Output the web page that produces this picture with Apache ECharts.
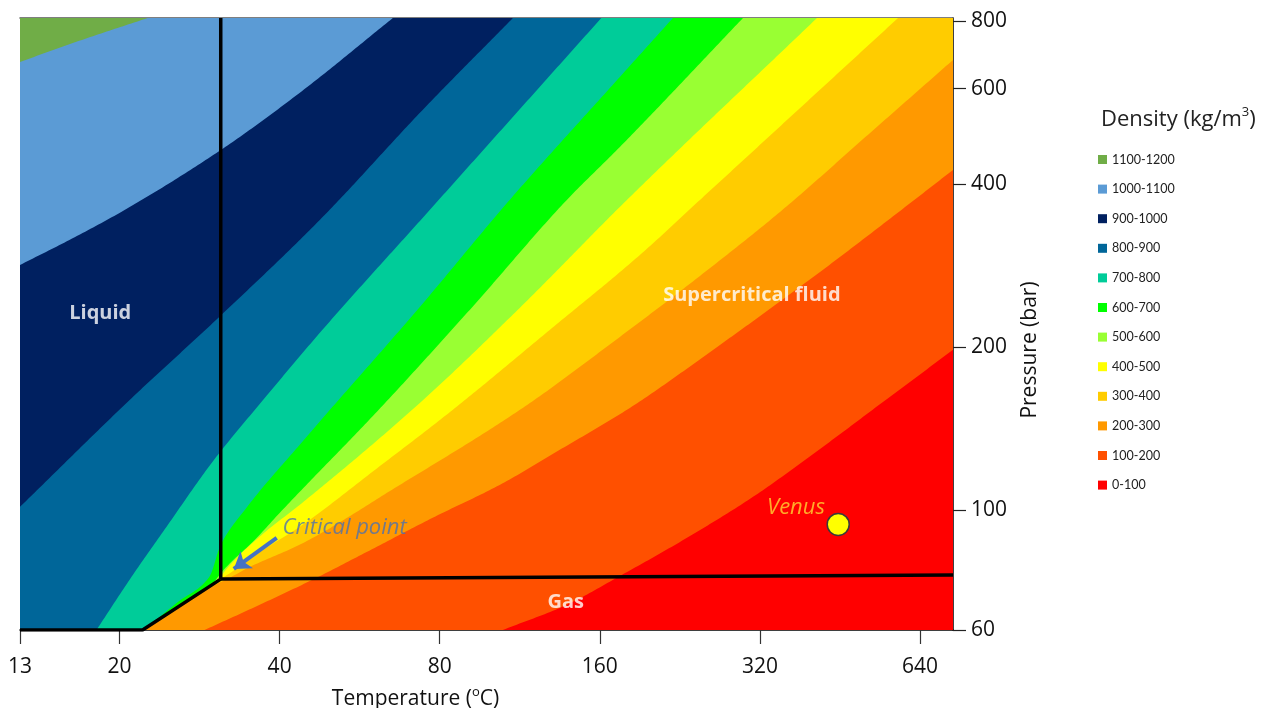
<!DOCTYPE html>
<html>
<head>
<meta charset="utf-8">
<title>CO2 density phase diagram</title>
<script src="https://cdn.jsdelivr.net/npm/echarts@6.0.0/dist/echarts.min.js"></script>
<style>
html,body{margin:0;padding:0;background:#ffffff;}
#chart{width:1261px;height:708px;}
</style>
</head>
<body>
<div id="chart"></div>
<script>
// ---------- data: temperature (°C) and pressure (bar) ----------
const tempRange = [13, 738];
const pressRange = [60, 810];
const tempTicks = [13, 20, 40, 80, 160, 320, 640];
const pressTicks = [60, 100, 200, 400, 600, 800];

const bandNames = ['0-100', '100-200', '200-300', '300-400', '400-500', '500-600',
                   '600-700', '700-800', '800-900', '900-1000', '1000-1100', '1100-1200'];
const bandColors = ['#ff0000', '#ff5000', '#ff9900', '#ffcc00', '#ffff00', '#99ff33',
                    '#00ff00', '#00cc99', '#006699', '#002060', '#5b9bd5', '#70ad47'];

// density contour lines (kg/m3), each listed from its lower-left end to its upper-right end
const iso100 = [[105.1, 60], [138.7, 66.8], [174.5, 75.5], [233.3, 88.8], [310.5, 105.7], [415.0, 129.6], [554.7, 160.3], [738, 197.5]];
const iso200 = [[28.9, 60], [36.7, 66.8], [46.5, 74.6], [58.3, 83.6], [77.6, 96.7], [103.7, 111.2], [134.5, 129.1], [182.2, 154.3], [269.1, 201.7], [415.0, 275.1], [586.9, 356.6], [738, 424.5]];
const iso300 = [[27.9, 69.7], [30.2, 72.7], [31.7, 74.3], [35.1, 78.4], [43.6, 86.2], [67.3, 111.2], [114.6, 154.3], [174.5, 208.7], [246.8, 270.5], [349.0, 355.1], [515.4, 496.9], [738, 677.7]];
const iso400 = [[30.7, 74.1], [32.5, 76.8], [37.5, 84.7], [43.6, 93.0], [60.4, 118.5], [84.6, 153.0], [128.8, 215.0], [190.3, 295.7], [246.8, 373.7], [581.8, 810]];
const iso500 = [[30.5, 73.7], [31.9, 78.1], [37.0, 89.9], [43.6, 102.1], [73.4, 157.6], [113.1, 236.1], [176.0, 365.8], [409.6, 810]];
const iso600 = [[29.9, 72.9], [31.4, 77.5], [35.9, 88.0], [40.0, 98.7], [43.6, 107.9], [59.9, 149.1], [91.1, 234.1], [138.7, 373.7], [174.5, 468.1], [297.3, 810]];
const iso700 = [[22.8, 61.2], [25.6, 67.3], [29.5, 75.2], [31.0, 86.2], [34.4, 100.0], [43.6, 131.8], [73.4, 237.1], [108.3, 373.7], [174.5, 630.5], [219.5, 810]];
const iso800 = [[18.1, 60], [21.2, 75.9], [24.5, 93.0], [29.9, 122.6], [37.8, 162.4], [47.6, 212.3], [76.6, 358], [161, 810]];
const iso900 = [[13, 101.3], [20.9, 159.6], [30.8, 227.2], [47.6, 343.2], [74.3, 548], [109.8, 810]];
const iso1000 = [[13, 283.4], [16.1, 315.2], [20.0, 353.6], [31.0, 462], [43.6, 589], [65.3, 810]];
const iso1100 = [[13, 672], [17.0, 738], [22.6, 810]];

// phase boundaries
const boilingCurve = [[13, 60], [22.1, 60], [31, 74.5]];
const criticalIsotherm = [[31, 810], [31, 74.5]];
const criticalIsobar = [[31, 74.5], [738, 75.8]];

// annotations
const venusPoint = [449, 94];
const regionLabels = [['Liquid', 18.4, 231], ['Supercritical fluid', 309, 249], ['Gas', 138, 67.6]];
const criticalLabel = ['Critical point', 40.5, 92.6];
const venusLabel = ['Venus', 374, 101];
const criticalArrow = [[39.5, 88.8], [32.8, 77.8]];

// ---------- chart ----------
const T_MIN = tempRange[0], T_MAX = tempRange[1];
const P_MIN = pressRange[0], P_MAX = pressRange[1];
const isolines = [null, iso100, iso200, iso300, iso400, iso500, iso600, iso700, iso800, iso900, iso1000, iso1100];
const FONT = '"Open Sans", Lato, "DejaVu Sans", sans-serif';
const LEGEND_FONT = 'Lato, "Open Sans", sans-serif';

// frame corners that close the region "density above this contour" towards the upper-left
function frameCorners(line) {
  const first = line[0], last = line[line.length - 1];
  const pts = [];
  if (last[1] < P_MAX) pts.push([T_MAX, P_MAX]);
  pts.push([T_MIN, P_MAX]);
  if (first[0] > T_MIN) {
    pts.push([T_MIN, P_MIN]);
    if (first[1] > P_MIN) pts.push(boilingCurve[1]);
  }
  return pts;
}

// monotone cubic (Fritsch-Carlson) curve through pixel points whose x increases
function smoothPixels(px) {
  const n = px.length;
  if (n < 3) return px.slice();
  const h = [], d = [], m = [];
  for (let i = 0; i < n - 1; i++) {
    h[i] = px[i + 1][0] - px[i][0];
    d[i] = (px[i + 1][1] - px[i][1]) / h[i];
  }
  m[0] = d[0];
  for (let i = 1; i < n - 1; i++) {
    if (d[i - 1] * d[i] <= 0) { m[i] = 0; continue; }
    const w1 = 2 * h[i] + h[i - 1], w2 = h[i] + 2 * h[i - 1];
    m[i] = (w1 + w2) / (w1 / d[i - 1] + w2 / d[i]);
  }
  m[n - 1] = d[n - 2];
  const out = [px[0]];
  for (let i = 0; i < n - 1; i++) {
    const len = Math.hypot(h[i], px[i + 1][1] - px[i][1]);
    const steps = Math.max(2, Math.ceil(len / 3));
    for (let k = 1; k <= steps; k++) {
      const t = k / steps, t2 = t * t, t3 = t2 * t;
      const h00 = 2 * t3 - 3 * t2 + 1, h10 = t3 - 2 * t2 + t, h01 = -2 * t3 + 3 * t2, h11 = t3 - t2;
      out.push([px[i][0] + h[i] * t,
                h00 * px[i][1] + h10 * h[i] * m[i] + h01 * px[i + 1][1] + h11 * h[i] * m[i + 1]]);
    }
  }
  return out;
}

const bandSeries = bandNames.map(function (name, i) {
  const line = i === 0 ? null : isolines[i];
  return {
    type: 'custom',
    name: name,
    coordinateSystem: 'cartesian2d',
    silent: true,
    clip: true,
    itemStyle: { color: bandColors[i] },
    data: i === 0 ? [[T_MIN, P_MIN]] : line,
    renderItem: function (params, api) {
      if (params.dataIndex !== 0) return null;
      let points;
      if (i === 0) {
        points = [[T_MIN, P_MIN], [T_MAX, P_MIN], [T_MAX, P_MAX], [T_MIN, P_MAX]].map(function (p) { return api.coord(p); });
      } else {
        points = smoothPixels(line.map(function (p) { return api.coord(p); }))
          .concat(frameCorners(line).map(function (p) { return api.coord(p); }));
      }
      return {
        type: 'polygon',
        shape: { points: points },
        style: { fill: api.visual('color') }
      };
    }
  };
});

const lineSeries = [boilingCurve, criticalIsotherm, criticalIsobar].map(function (d) {
  return {
    type: 'line', data: d, symbol: 'none', silent: true, z: 5,
    lineStyle: { color: '#000000', width: 3.5 }
  };
});

const annotationSeries = [
  {
    type: 'scatter', symbolSize: 0, silent: true, z: 6,
    data: regionLabels.map(function (r) { return { name: r[0], value: [r[1], r[2]] }; }),
    label: { show: true, position: 'inside', formatter: '{b}', color: '#ffffff', fontWeight: 'bold', fontSize: 20, fontFamily: FONT }
  },
  {
    type: 'scatter', symbolSize: 0, silent: true, z: 6,
    data: [{ name: criticalLabel[0], value: [criticalLabel[1], criticalLabel[2]] }],
    label: { show: true, position: 'right', distance: 0, formatter: '{b}', color: '#4f70ad', fontStyle: 'italic', fontSize: 22, fontFamily: FONT },
    markLine: {
      silent: true, symbol: ['none', 'arrow'], symbolSize: 16,
      lineStyle: { color: '#4472c4', width: 4, type: 'solid' },
      label: { show: false },
      data: [[{ coord: criticalArrow[0] }, { coord: criticalArrow[1] }]]
    }
  },
  {
    type: 'scatter', symbolSize: 0, silent: true, z: 6,
    data: [{ name: venusLabel[0], value: [venusLabel[1], venusLabel[2]] }],
    label: { show: true, position: 'inside', formatter: '{b}', color: '#ffd633', fontStyle: 'italic', fontSize: 22, fontFamily: FONT }
  },
  {
    type: 'scatter', silent: true, z: 6, symbolSize: 22,
    data: [venusPoint],
    itemStyle: { color: '#ffff00', borderColor: '#3a3a3a', borderWidth: 1.5, opacity: 1 }
  }
];

const chart = echarts.init(document.getElementById('chart'), null, { renderer: 'canvas' });
chart.setOption({
  animation: false,
  backgroundColor: '#ffffff',
  textStyle: { fontFamily: FONT },
  title: {
    text: '{a|Density (kg/m}{s|3}{a|)}',
    left: 1096, top: 101,
    textStyle: {
      fontWeight: 'normal',
      rich: {
        a: { fontSize: 22, color: '#222222', fontFamily: FONT, fontWeight: 'normal', lineHeight: 28 },
        s: { fontSize: 13, color: '#222222', fontFamily: FONT, fontWeight: 'normal', lineHeight: 15, verticalAlign: 'top' }
      }
    }
  },
  legend: {
    data: bandNames.slice().reverse(),
    orient: 'vertical',
    left: 1093, top: 148,
    icon: 'rect', itemWidth: 9, itemHeight: 9, itemGap: 16.6,
    selectedMode: false,
    textStyle: { fontSize: 12.5, color: '#222222', fontFamily: LEGEND_FONT }
  },
  grid: { left: 20, right: 308, top: 18, bottom: 78, containLabel: false, outerBoundsMode: 'none' },
  xAxis: [{
    type: 'log', min: T_MIN, max: T_MAX, position: 'bottom',
    axisLine: { show: true, onZero: false, lineStyle: { color: '#000000', width: 1.5 } },
    axisTick: { show: true, customValues: tempTicks, length: 14, lineStyle: { color: '#333333', width: 1.2 } },
    axisLabel: { customValues: tempTicks, fontSize: 21, margin: 27, color: '#111111', fontFamily: FONT,
                 formatter: function (v) { return String(Math.round(v)); } },
    minorTick: { show: false }, splitLine: { show: false },
    name: '{a|Temperature (}{s|o}{a|C)}', nameLocation: 'middle', nameGap: 56,
    nameTextStyle: {
      padding: [0, 142, 0, 0],
      rich: {
        a: { fontSize: 21, color: '#111111', fontFamily: FONT, lineHeight: 26 },
        s: { fontSize: 13, color: '#111111', fontFamily: FONT, lineHeight: 14, verticalAlign: 'top' }
      }
    }
  }, {
    type: 'log', min: T_MIN, max: T_MAX, position: 'top',
    axisLine: { show: true, onZero: false, lineStyle: { color: '#555555', width: 1.5 } },
    axisTick: { show: false }, axisLabel: { show: false }, splitLine: { show: false }, minorTick: { show: false }
  }],
  yAxis: {
    type: 'log', min: P_MIN, max: P_MAX, position: 'right',
    axisLine: { show: true, onZero: false, lineStyle: { color: '#000000', width: 1.5 } },
    axisTick: { show: true, customValues: pressTicks, length: 13, lineStyle: { color: '#222222', width: 1.2 } },
    axisLabel: { customValues: pressTicks, fontSize: 21, margin: 18, color: '#111111', fontFamily: FONT,
                 formatter: function (v) { return String(Math.round(v)); } },
    minorTick: { show: false }, splitLine: { show: false },
    name: 'Pressure (bar)', nameLocation: 'middle', nameRotate: 90, nameGap: 67,
    nameTextStyle: { fontSize: 21, color: '#111111', fontFamily: FONT, padding: [0, 52, 0, 0] }
  },
  series: bandSeries.concat(lineSeries, annotationSeries)
});
</script>
</body>
</html>
